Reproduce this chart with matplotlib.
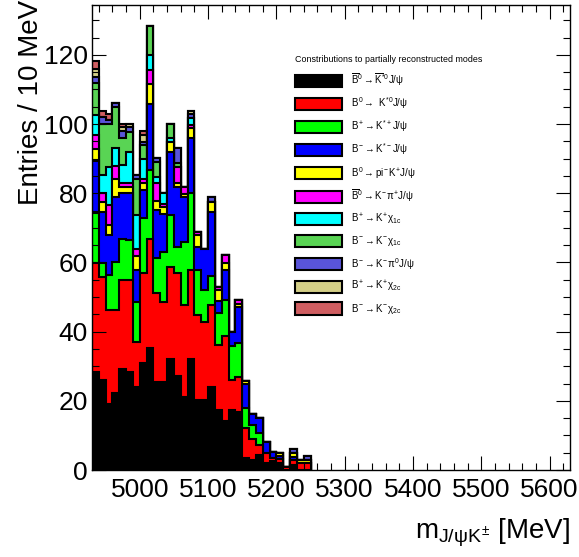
import numpy as np
import matplotlib
matplotlib.use('Agg')
import matplotlib.pyplot as plt
from matplotlib.patches import Patch
from matplotlib.ticker import MultipleLocator

plt.rcParams['font.family'] = ['Liberation Sans', 'DejaVu Sans']
plt.rcParams['mathtext.fontset'] = 'custom'
plt.rcParams['mathtext.rm'] = 'Liberation Sans'
plt.rcParams['mathtext.it'] = 'Liberation Sans'
plt.rcParams['mathtext.bf'] = 'Liberation Sans:bold'

# 10 MeV bins starting at 4930 MeV (only the filled part of the range)
bin_low = 4930
bin_width = 10

# entries per bin for each mode, bottom of the stack first
black = [28.2, 26.1, 19.2, 22.2, 29.1, 28.2, 24.1, 31.0, 35.2, 25.3,
         25.3, 32.1, 27.2, 21.2, 32.1, 20.3, 20.3, 23.9, 17.2, 14.3,
         17.2, 16.9, 3.4, 3.0, 4.3, 2.0, 2.5, 2.1, 0.0, 1.4, 0.0, 0.0]
red = [31.6, 29.8, 27.1, 24.1, 25.8, 26.7, 13.0, 26.0, 31.5, 25.8,
       23.4, 26.7, 29.7, 26.5, 25.7, 24.5, 22.6, 23.8, 19.0, 24.3,
       8.8, 10.1, 8.6, 6.0, 2.9, 3.0, 1.0, 1.1, 0.8, 1.5, 2.0, 2.0]
green = [14.5, 3.9, 10.1, 13.9, 12.0, 11.6, 11.6, 15.7, 20.0, 10.1,
         14.4, 14.9, 7.6, 18.3, 22.2, 13.0, 9.1, 8.3, 9.1, 10.6,
         9.7, 9.6, 5.8, 4.0, 3.4, 0, 0, 0, 0, 0, 0, 0]
blue = [14.9, 14.9, 11.5, 18.8, 13.1, 13.5, 9.1, 8.2, 19.1, 14.0,
        10.9, 18.1, 17.4, 13.0, 15.9, 6.7, 12.0, 18.7, 3.6, 8.6,
        4.3, 10.4, 7.1, 3.2, 4.3, 3.0, 1.6, 0.8, 0, 1.0, 0, 0]
yellow = [3.5, 2.9, 2.9, 5.0, 1.9, 1.9, 4.1, 2.0, 5.8, 2.6,
          1.9, 3.1, 1.0, 0.8, 2.9, 3.4, 0, 2.8, 3.1, 2.1,
          0, 0.9, 0.9, 0, 0, 0, 0, 0.8, 0, 0.9, 1.0, 1.0]
magenta = [4.2, 2.4, 5.8, 4.0, 1.0, 1.0, 1.9, 1.1, 4.0, 5.1,
           1.0, 0, 4.8, 2.1, 0.9, 1.0, 0, 0, 1.0, 2.3,
           0, 1.1, 0, 0, 0, 0, 0, 0, 0, 0, 0, 0]
cyan = [5.8, 5.3, 11.1, 5.0, 5.3, 9.1, 9.9, 5.8, 4.4, 1.9,
        3.1, 1.0, 0, 0, 2.0, 0, 0, 0, 0, 0,
        0, 0, 0, 0, 0, 0, 0, 0, 0, 0, 0, 0]
lightgreen = [9.1, 14.7, 12.3, 12.0, 7.7, 5.8, 10.3, 4.1, 8.2, 4.1,
              0, 4.1, 1.1, 0, 0, 0, 0, 0, 0, 0,
              0, 0, 0, 0, 0, 0, 0, 0, 0, 0, 0, 0]
lavender = [1.9, 1.9, 1.2, 1.0, 2.2, 1.3, 1.3, 1.0, 0, 1.4,
            0, 0, 4.2, 0, 1.1, 0, 0, 1.5, 0, 0,
            0, 0, 0, 0, 0, 0, 0, 0, 0, 1.3, 0, 1.0]
khaki = [2.1, 0, 0, 0, 1.0, 0.8, 0, 1.9, 0, 0,
         0, 0, 0, 0, 1.1, 0, 0, 0, 0, 0,
         0, 0, 0, 0, 0, 0, 0, 0, 0, 0, 0, 0]
indianred = [2.3, 2.0, 1.6, 0, 0.8, 0, 0, 1.2, 0, 0,
             0, 0, 0, 0, 0, 0, 0, 0, 0, 0,
             0, 0, 0, 0, 0, 0, 0, 0, 0, 0, 0, 0]

labels = [
    r'$\overline{B}^{0}{\rightarrow}\overline{K}^{*0}J/\psi$',
    r'$B^{0}{\rightarrow}\ K^{*0}J/\psi$',
    r'$B^{+}{\rightarrow}K^{*+}J/\psi$',
    r'$B^{-}{\rightarrow}K^{*-}J/\psi$',
    r'$B^{0}{\rightarrow}pi^{-}K^{+}J/\psi$',
    r'$\overline{B}^{0}{\rightarrow}K^{-}\pi^{+}J/\psi$',
    r'$B^{+}{\rightarrow}K^{+}\chi_{1c}$',
    r'$B^{-}{\rightarrow}K^{-}\chi_{1c}$',
    r'$B^{-}{\rightarrow}K^{-}\pi^{0}J/\psi$',
    r'$B^{+}{\rightarrow}K^{+}\chi_{2c}$',
    r'$B^{-}{\rightarrow}K^{-}\chi_{2c}$',
]
colors = ['#000000', '#ff0000', '#00ff00', '#0000ff', '#ffff00', '#ff00ff',
          '#00ffff', '#59d454', '#5954d9', '#d4cf87', '#cf5e61']

components = [black, red, green, blue, yellow, magenta, cyan,
              lightgreen, lavender, khaki, indianred]
nbins = len(black)
edges = bin_low + bin_width * np.arange(nbins + 1)
stack = np.cumsum(np.array(components), axis=0)

fig = plt.figure(figsize=(5.79, 5.57), dpi=100)
ax = fig.add_axes([92 / 579, 87 / 557, 478 / 579, 465 / 557])

# draw like a THStack: biggest cumulative first so the lower ones sit on top
for k in range(len(components) - 1, -1, -1):
    ax.stairs(stack[k], edges, baseline=0, fill=True,
              facecolor=colors[k], edgecolor='black', linewidth=1.5)

ax.set_xlim(4930, 5630)
ax.set_ylim(0, 134.4)
ax.xaxis.set_major_locator(MultipleLocator(100))
ax.xaxis.set_minor_locator(MultipleLocator(20))
ax.yaxis.set_major_locator(MultipleLocator(20))
ax.yaxis.set_minor_locator(MultipleLocator(5))
ax.tick_params(which='both', direction='in', top=True, right=True,
               width=0.8, labelsize=19)
ax.tick_params(which='major', length=10)
ax.tick_params(which='minor', length=5)
ax.tick_params(axis='x', pad=6)
ax.tick_params(axis='y', pad=3)
for s in ax.spines.values():
    s.set_linewidth(1.0)

ax.set_xlabel(r'$m_{J/\psi K^{\pm}}$ [MeV]', fontsize=20, loc='right')
ax.xaxis.set_label_coords(1.0, -0.10)
ax.set_ylabel('Entries / 10 MeV', fontsize=20, loc='top')
ax.yaxis.set_label_coords(-0.10, 1.01)

handles = [Patch(facecolor=c, edgecolor='black', linewidth=1.5) for c in colors]
ax.legend(handles, labels, title='Constributions to partially reconstructed modes',
          title_fontsize=6.4, fontsize=7, frameon=False, alignment='left',
          loc='upper left', bbox_to_anchor=(295 / 579, 1 - 55 / 557),
          bbox_transform=fig.transFigure, borderpad=0, borderaxespad=0,
          handlelength=4.8, handleheight=1.55, handletextpad=1.0,
          labelspacing=0.76)

fig.savefig('out.png', dpi=100)
